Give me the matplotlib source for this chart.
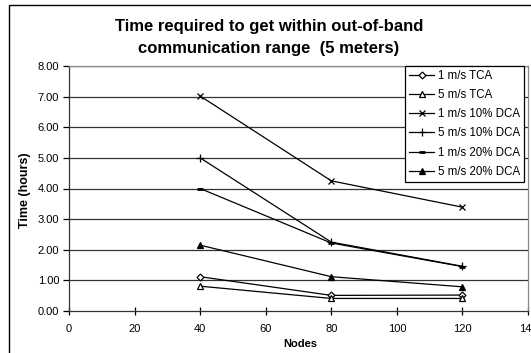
import matplotlib.pyplot as plt
import matplotlib.patches as patches

plt.rcParams['font.family'] = ['Liberation Sans', 'DejaVu Sans']

# Data
nodes = [40, 80, 120]
tca_1 = [1.12, 0.51, 0.52]
tca_5 = [0.81, 0.41, 0.41]
dca10_1 = [7.02, 4.25, 3.39]
dca10_5 = [5.00, 2.25, 1.46]
dca20_1 = [4.00, 2.22, 1.45]
dca20_5 = [2.15, 1.12, 0.79]

series = [
    (tca_1, '1 m/s TCA', dict(marker='D', markersize=3.5, markerfacecolor='white')),
    (tca_5, '5 m/s TCA', dict(marker='^', markersize=4.5, markerfacecolor='white')),
    (dca10_1, '1 m/s 10% DCA', dict(marker='x', markersize=5)),
    (dca10_5, '5 m/s 10% DCA', dict(marker='+', markersize=6)),
    (dca20_1, '1 m/s 20% DCA', dict(marker='_', markersize=5, markeredgewidth=2)),
    (dca20_5, '5 m/s 20% DCA', dict(marker='^', markersize=4.5, markerfacecolor='black')),
]

W, H = 531, 353
fig = plt.figure(figsize=(W / 100, H / 100), dpi=100)
ax = fig.add_axes([69 / W, 1 - 311 / H, (528 - 69) / W, (311 - 66) / H])

# horizontal gridlines
for v in range(1, 9):
    ax.axhline(v, color='#333333', linewidth=0.9, zorder=1)

for vals, label, style in series:
    ax.plot(nodes, vals, color='black', linewidth=0.9, markeredgecolor='black',
            markeredgewidth=style.pop('markeredgewidth', 0.9), label=label, zorder=3, **style)

ax.set_xlim(0, 140)
ax.set_ylim(0, 8)
ax.set_xticks(range(0, 141, 20))
ax.set_yticks(range(0, 9))
ax.set_yticklabels([f'{v:.2f}' for v in range(0, 9)])
ax.tick_params(axis='y', direction='out', length=4, width=0.9, pad=3, labelsize=8)
ax.tick_params(axis='x', direction='inout', length=6, width=0.9, pad=6, labelsize=8)

ax.spines['left'].set_color('#333333')
ax.spines['bottom'].set_color('#333333')
ax.spines['right'].set_color('#888888')
ax.spines['top'].set_color('#888888')
for s in ax.spines.values():
    s.set_linewidth(0.9)

fig.text(269 / W, 1 - 27 / H, 'Time required to get within out-of-band',
         ha='center', va='center', fontsize=12, fontweight='bold')
fig.text(269 / W, 1 - 48 / H, 'communication range  (5 meters)',
         ha='center', va='center', fontsize=12, fontweight='bold')
fig.text(25 / W, 1 - 190 / H, 'Time (hours)', rotation=90,
         ha='center', va='center', fontsize=9, fontweight='bold')
fig.text(300 / W, 1 - 344 / H, 'Nodes', ha='center', va='center',
         fontsize=8, fontweight='bold')

leg = ax.legend(loc='upper right', bbox_to_anchor=(524 / W, 1 - 66 / H),
                bbox_transform=fig.transFigure, borderaxespad=0, fontsize=8.3,
                frameon=True, fancybox=False, framealpha=1, edgecolor='black',
                handlelength=2.2, handletextpad=0.3, labelspacing=0.62,
                borderpad=0.35)
leg.get_frame().set_linewidth(0.9)

# outer chart border (cut off at right and bottom like the reference)
fig.patches.append(patches.Rectangle((9 / W, -0.1), 2, 1 - 5 / H + 0.1,
                                     transform=fig.transFigure, fill=False,
                                     edgecolor='black', linewidth=1))

plt.savefig('out.png', dpi=100)
